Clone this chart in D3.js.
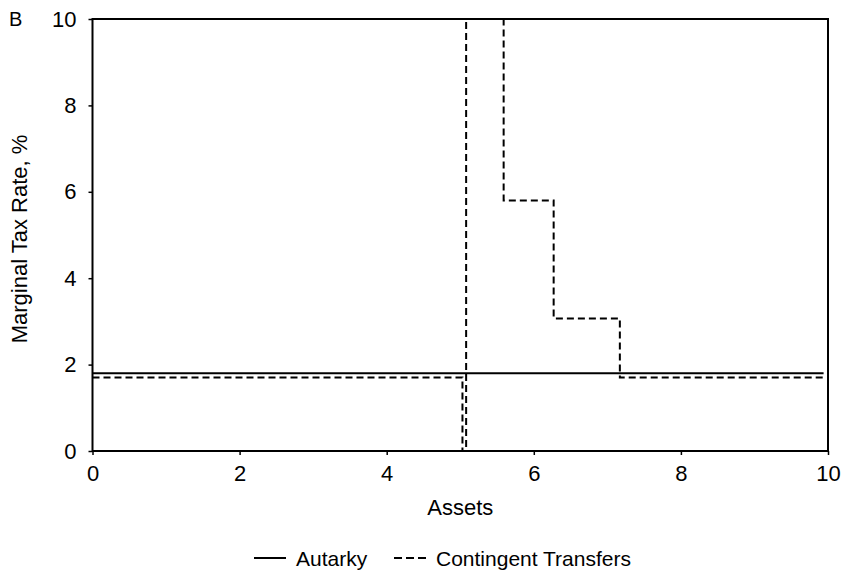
<!DOCTYPE html>
<html>
<head>
<meta charset="utf-8">
<script src="https://cdn.jsdelivr.net/npm/d3@7"></script>
<style>
  html, body { margin: 0; padding: 0; background: #fff; }
  svg { display: block; font-family: "Liberation Sans", Arial, sans-serif; }
</style>
</head>
<body>
<svg id="chart" width="848" height="577"></svg>
<script>
// Autarky: flat marginal tax rate across assets
const autarkyAssets = [0, 9.94];
const autarkyRates  = [1.8, 1.8];

// Contingent transfers: step schedule (rate applies from each asset level to the next)
const contingentAssets = [0, 5.03, 5.03, 5.08, 5.08, 5.59, 5.59, 6.27, 6.27, 7.17, 7.17, 9.94];
const contingentRates  = [1.7, 1.7, 0, 0, 12, 12, 5.8, 5.8, 3.07, 3.07, 1.7, 1.7];

const xTicks = [0, 2, 4, 6, 8, 10];
const yTicks = [0, 2, 4, 6, 8, 10];

const legendLabels = ["Autarky", "Contingent Transfers"];

const FONT = 22;
const LEGEND_FONT = 21;
const svg = d3.select("#chart");

const x = d3.scaleLinear().domain([0, 10]).range([92.5, 828]);
const y = d3.scaleLinear().domain([0, 10]).range([451, 19]);

svg.append("defs").append("clipPath").attr("id", "plotClip")
  .append("rect")
  .attr("x", x(0)).attr("y", y(10))
  .attr("width", x(10) - x(0)).attr("height", y(0) - y(10));

// Axes with short outward ticks
const xAxis = svg.append("g")
  .attr("transform", `translate(0,${y(0)})`)
  .call(d3.axisBottom(x).tickValues(xTicks).tickSize(4).tickPadding(10).tickFormat(d3.format("d")));
const yAxis = svg.append("g")
  .attr("transform", `translate(${x(0)},0)`)
  .call(d3.axisLeft(y).tickValues(yTicks).tickSize(4).tickPadding(12).tickFormat(d3.format("d")));
[xAxis, yAxis].forEach(g => {
  g.select(".domain").remove();
  g.selectAll("line").attr("stroke", "#000").attr("stroke-width", 1.5);
  g.selectAll("text").attr("font-size", FONT).attr("fill", "#000")
    .attr("font-family", "'Liberation Sans', Arial, sans-serif");
});

const line = d3.line().x(d => x(d[0])).y(d => y(d[1]));
const plot = svg.append("g").attr("clip-path", "url(#plotClip)");

plot.append("path")
  .datum(autarkyAssets.map((a, i) => [a, autarkyRates[i]]))
  .attr("d", line)
  .attr("fill", "none").attr("stroke", "#000").attr("stroke-width", 2);

plot.append("path")
  .datum(contingentAssets.map((a, i) => [a, contingentRates[i]]))
  .attr("d", line)
  .attr("fill", "none").attr("stroke", "#000").attr("stroke-width", 2)
  .attr("stroke-dasharray", "7,4");

// Plot frame
svg.append("rect")
  .attr("x", x(0)).attr("y", y(10))
  .attr("width", x(10) - x(0)).attr("height", y(0) - y(10))
  .attr("fill", "none").attr("stroke", "#000").attr("stroke-width", 2);

// Axis titles
svg.append("text")
  .attr("x", (x(0) + x(10)) / 2).attr("y", 515)
  .attr("text-anchor", "middle").attr("font-size", FONT)
  .text("Assets");
svg.append("text")
  .attr("transform", `translate(27,${(y(0) + y(10)) / 2 + 4}) rotate(-90)`)
  .attr("text-anchor", "middle").attr("font-size", FONT)
  .text("Marginal Tax Rate, %");

// Panel label
svg.append("text").attr("x", 9).attr("y", 26).attr("font-size", 20).text("B");

// Legend
const legend = svg.append("g").attr("transform", "translate(0,558)");
const items = [
  { label: legendLabels[0], x0: 254, dash: null },
  { label: legendLabels[1], x0: 394, dash: "8,4" }
];
items.forEach(it => {
  legend.append("line")
    .attr("x1", it.x0).attr("x2", it.x0 + 32).attr("y1", 0).attr("y2", 0)
    .attr("stroke", "#000").attr("stroke-width", 2)
    .attr("stroke-dasharray", it.dash);
  legend.append("text")
    .attr("x", it.x0 + 42).attr("y", 7.5)
    .attr("font-size", LEGEND_FONT).text(it.label);
});
</script>
</body>
</html>
